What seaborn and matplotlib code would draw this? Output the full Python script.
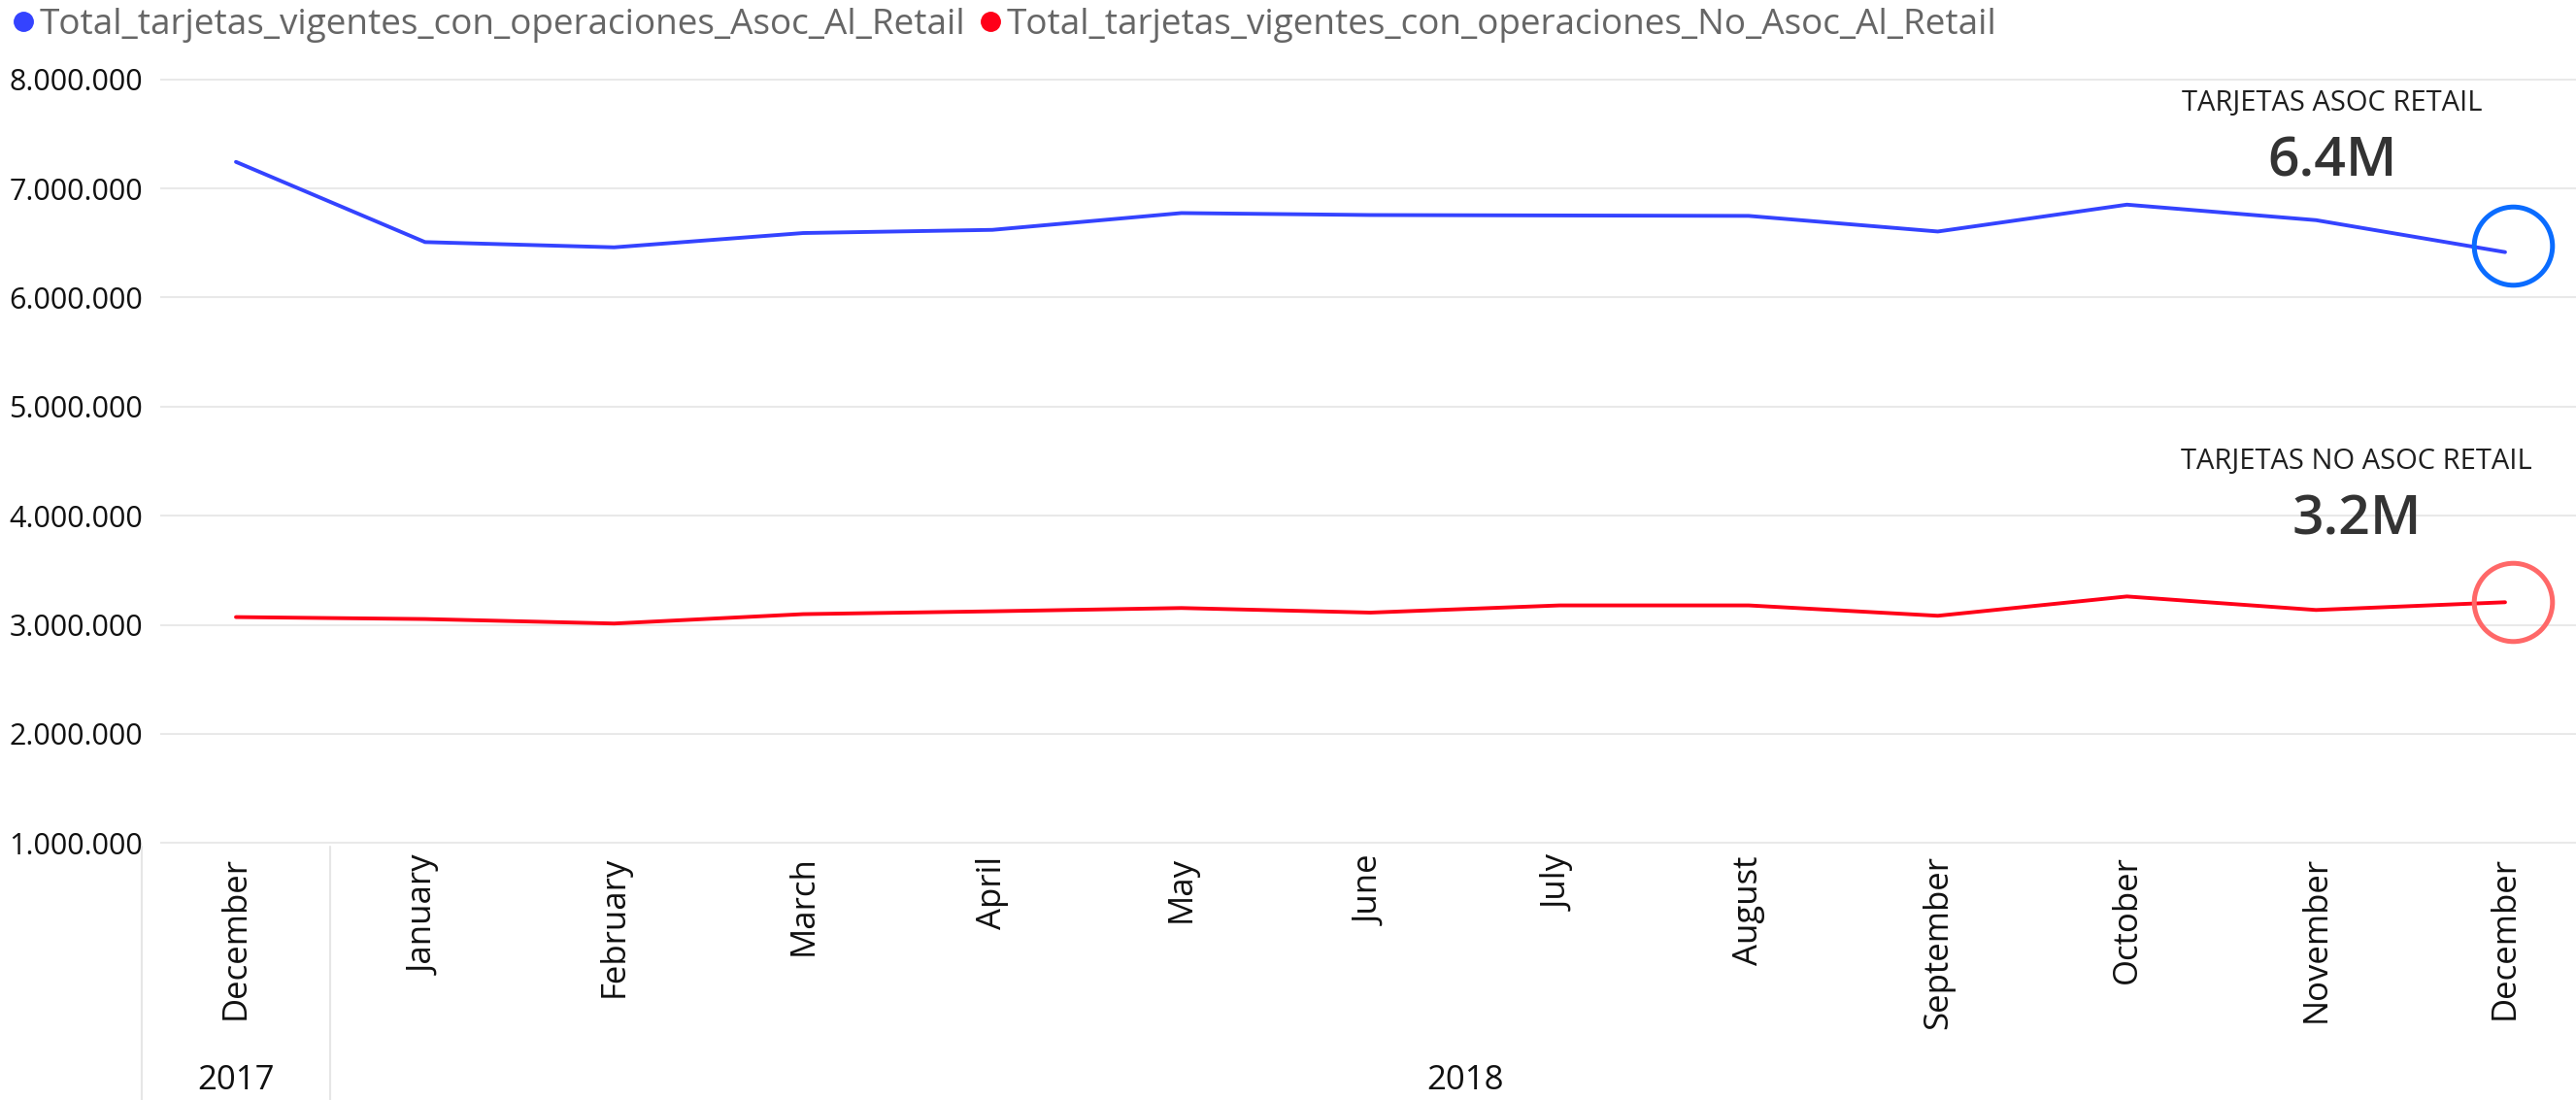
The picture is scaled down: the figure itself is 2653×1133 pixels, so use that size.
###########################################################################################
# imports
import pandas as pd
import seaborn as sns
import matplotlib
matplotlib.use('Agg')
import matplotlib.pyplot as plt
import matplotlib.transforms as mtransforms
from matplotlib import font_manager
from matplotlib.lines import Line2D

###########################################################################################
# chart data

months = ['December', 'January', 'February', 'March', 'April', 'May', 'June',
          'July', 'August', 'September', 'October', 'November', 'December']
years = ['2017'] + ['2018'] * 12

asoc_retail = [7243000, 6508000, 6460000, 6591000, 6620000, 6774000, 6756000,
               6752000, 6748000, 6605000, 6851000, 6709000, 6416000]
no_asoc_retail = [3071000, 3053000, 3012000, 3098000, 3124000, 3154000, 3112000,
                  3178000, 3178000, 3083000, 3260000, 3136000, 3207000]

series_names = ['Total_tarjetas_vigentes_con_operaciones_Asoc_Al_Retail',
                'Total_tarjetas_vigentes_con_operaciones_No_Asoc_Al_Retail']
card_titles = ['TARJETAS ASOC RETAIL', 'TARJETAS NO ASOC RETAIL']
y_ticks = [1000000, 2000000, 3000000, 4000000, 5000000, 6000000, 7000000, 8000000]

line_colors = ['#3443ff', '#ff0018']
ring_colors = ['#0a6cff', '#ff6868']


###########################################################################################
# aux functions

def fmt_thousands(v):
    return f'{v:,.0f}'.replace(',', '.')


def pick_narrow_font():
    names = {f.name for f in font_manager.fontManager.ttflist}
    if 'Liberation Sans Narrow' in names:
        return 'Liberation Sans Narrow', 25
    return 'Open Sans', 22


def plot_lines():
    sns.set_theme(style='white')
    plt.rcParams['font.family'] = ['Open Sans', 'DejaVu Sans']
    narrow, narrow_size = pick_narrow_font()

    # long form data for seaborn
    n = len(months)
    df = pd.DataFrame({
        'idx': list(range(n)) * 2,
        'value': asoc_retail + no_asoc_retail,
        'serie': [series_names[0]] * n + [series_names[1]] * n,
    })

    fig = plt.figure(figsize=(26.53, 11.33), dpi=100)
    ax = fig.add_axes([165 / 2653, 1 - 869 / 1133, 1 - 165 / 2653, (869 - 81) / 1133])

    sns.lineplot(data=df, x='idx', y='value', hue='serie',
                 palette=dict(zip(series_names, line_colors)),
                 linewidth=2.8, ax=ax, legend=False)

    # axes limits / grid
    ax.set_xlim(-0.4005, 12.375)
    ax.set_ylim(y_ticks[0] - 6000, y_ticks[-1] + 6000)
    ax.set_yticks(y_ticks)
    ax.set_yticklabels([fmt_thousands(v) for v in y_ticks],
                       fontsize=narrow_size, family=narrow, color='#111111')
    ax.set_xticks(range(n))
    ax.set_xticklabels(months, rotation=90, fontsize=25, color='#111111',
                       va='top', ha='center')
    ax.tick_params(axis='both', length=0)
    ax.tick_params(axis='x', pad=9)
    ax.tick_params(axis='y', pad=13)
    ax.grid(axis='y', color='#e9e9e9', linewidth=1.5)
    ax.grid(axis='x', visible=False)
    for s in ax.spines.values():
        s.set_visible(False)
    ax.set_xlabel('')
    ax.set_ylabel('')

    # year hierarchy below month labels
    trans = mtransforms.blended_transform_factory(ax.transData, fig.transFigure)
    for xs in (-0.5, 0.5):
        ax.plot([xs, xs], [1 - 872 / 1133, 0], transform=trans, color='#e6e6e6',
                linewidth=1.5, clip_on=False)
    ax.text(0.0, 1 - 1113 / 1133, years[0], transform=trans, ha='center',
            va='center', fontsize=25, family=narrow, color='#111111')
    ax.text(6.5, 1 - 1113 / 1133, years[-1], transform=trans,
            ha='center', va='center', fontsize=25, family=narrow, color='#111111')

    # highlight rings on last points
    last = [asoc_retail[-1], no_asoc_retail[-1]]
    ring_shift = [7, 0]
    for val, col, dy in zip(last, ring_colors, ring_shift):
        tr = mtransforms.offset_copy(ax.transData, fig=fig, x=8, y=dy, units='dots')
        ax.plot([n - 1], [val], marker='o', markersize=58, markerfacecolor='none',
                markeredgecolor=col, markeredgewidth=3.6, transform=tr, clip_on=False)

    # card style annotations
    title_pos = [(11.086, 7780000), (11.214, 4496000)]
    value_pos = [(11.086, 7234000), (11.214, 3954000)]
    for title, val, tp, vp in zip(card_titles, last, title_pos, value_pos):
        ax.text(tp[0], tp[1], title, ha='center', va='center', fontsize=21,
                color='#1f1f1f')
        ax.text(vp[0], vp[1], f'{val / 1e6:.1f}M', ha='center', va='center',
                fontsize=41, fontweight='semibold', color='#333333')

    # legend with round markers
    handles = [Line2D([], [], marker='o', linestyle='', markersize=14,
                      color=c) for c in line_colors]
    fig.legend(handles, series_names, loc='upper left',
               bbox_to_anchor=(0.002, 1 - 6 / 1133),
               ncol=2, frameon=False, fontsize=26.6, labelcolor='#666666',
               handletextpad=0.0, columnspacing=0.25, handlelength=0.9,
               borderaxespad=0.0, borderpad=0.05)

    fig.savefig('out.png', dpi=100, facecolor='white')
    plt.close(fig)


######################################################################
# defining main function

def main():
    """Runs main code."""
    plot_lines()


######################################################################
# running main function

if __name__ == '__main__':
    main()
